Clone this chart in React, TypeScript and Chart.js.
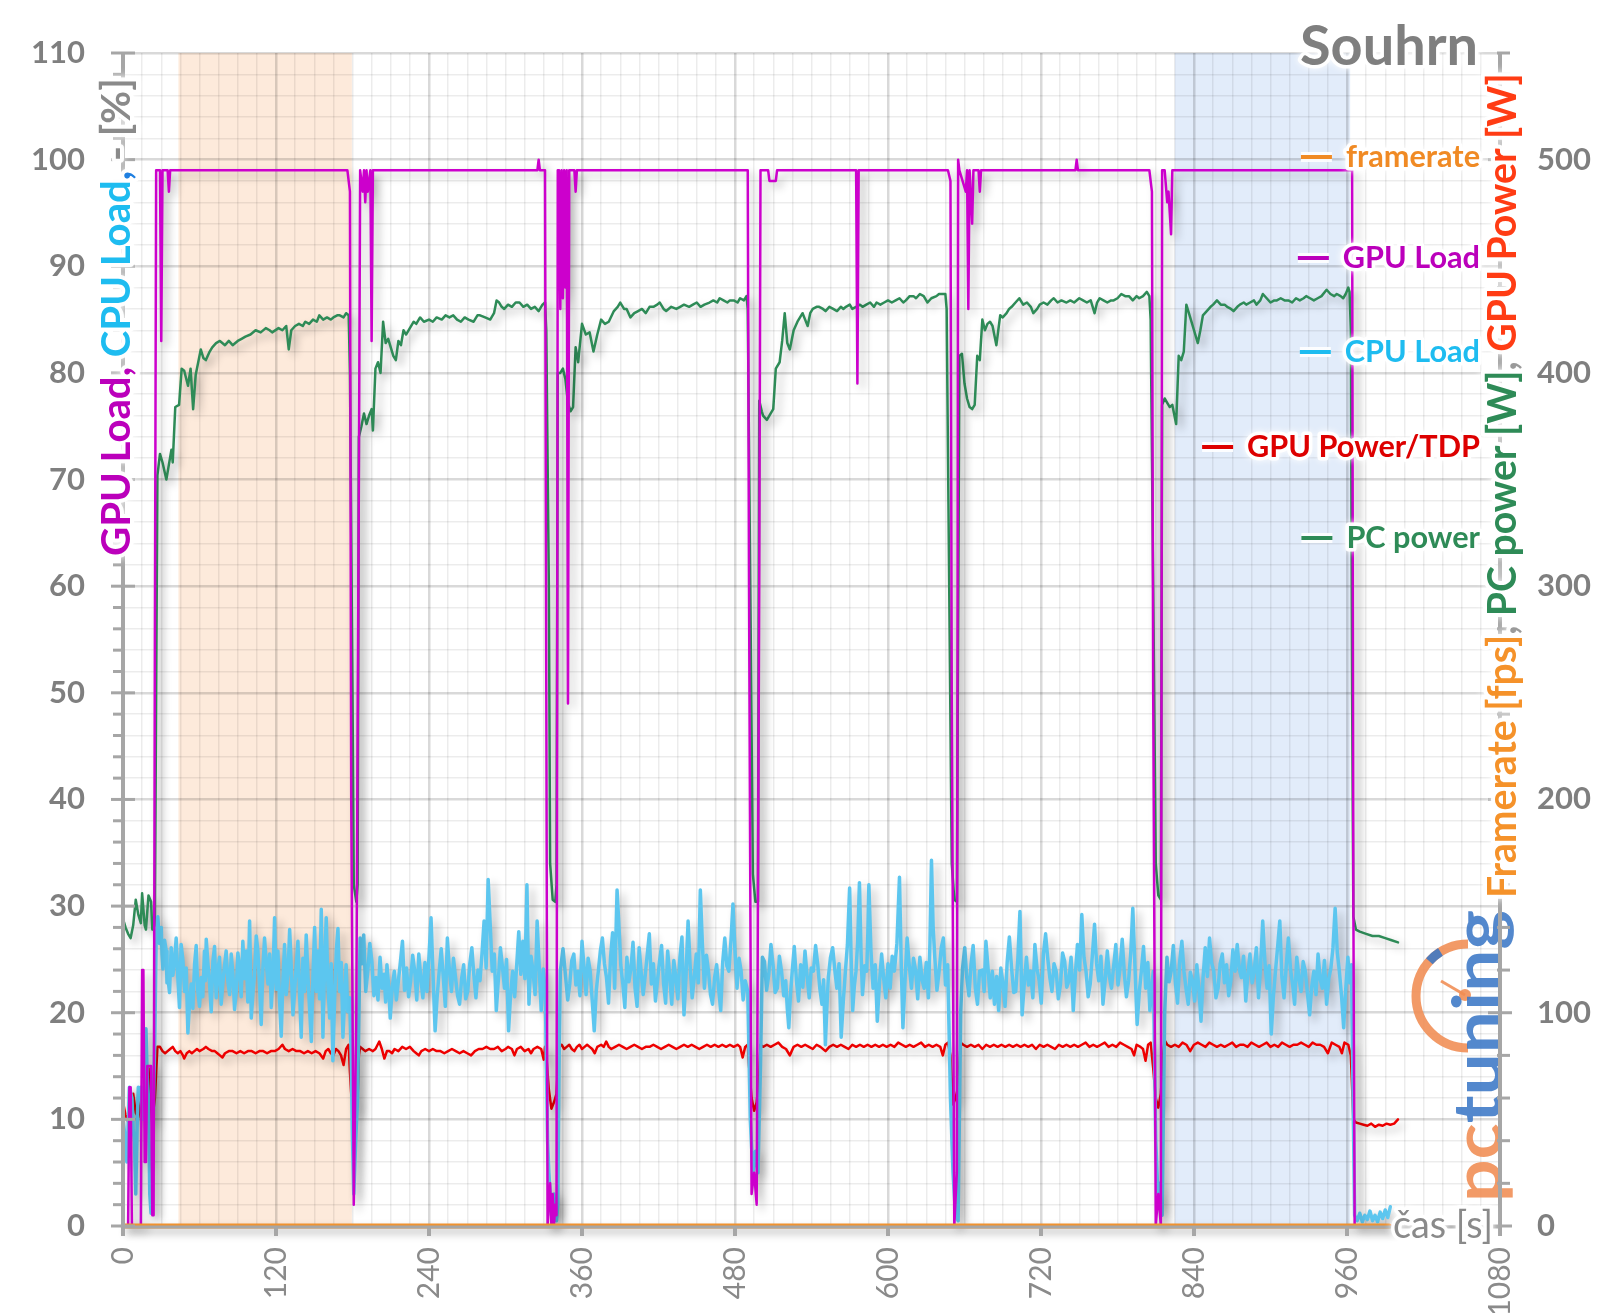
import React, { useEffect, useRef } from 'react';
import { Chart, registerables } from 'chart.js';

Chart.register(...registerables);

// ---------- data (time [s], value) ----------
const framerate: [number, number][] = [[0, 0], [993, 0]];

const gpuLoad: [number, number][] = [
  [0,0],[4,0],[5,13],[6,13],[7,0],[14,0],[15,24],[16,24],[17,6],[18,6],[19,15],[22,15],[23,1],[24,1],[25,55],[26,99],[29,99],[30,83],[31,99],[35,99],[36,97],[37,99],
  [176,99],[178,97],[179,40],[181,2],[183,20],[185,70],[186,99],[188,97],[189,99],[190,96],[191,99],[192,97],[194,99],[195,83],[196,99],
  [325,99],[326,100],[327,99],[331,99],[332,50],[333,0],[335,4],[336,0],[337,3],[338,0],[339,2],[340,1],[341,99],[342,99],[343,86],[344,99],[345,87],[346,99],[347,88],[348,99],[349,49],[350,99],[354,99],[355,97],[356,99],
  [490,99],[491,60],[493,3],[495,5],[497,2],[499,60],[500,99],[506,99],[507,98],[512,98],[513,99],[575,99],[576,79],[577,99],
  [647,99],[649,98],[650,50],[652,0],[654,5],[655,100],[656,99],[661,97],[662,99],[663,86],[664,99],[666,94],[667,99],[671,99],[672,97],[673,99],
  [747,99],[748,100],[749,99],[805,99],[807,97],[808,50],[810,0],[812,3],[814,0],[815,99],[817,99],[819,96],[820,97],[822,93],[823,99],
  [963,99],[964,99],[965,30],[966,0],[1000,0]
];

const cpuLoad: [number, number][] = [
  [0,10],[1,9],[2,8],[3,6],[4,9],[5,13],[6,12.5],[7,12],[8,9],[9,8],[10,3],[11,9],[12,13],[13,12],[14,13],[15,11],[16,10],[17,14],[18,18.5],[19,14],[20,12],[21,3],[22,1.2],[23,6],[24,12],[25,18],[26,27],
  [27.3,29],[28.6,26.5],[30,28],[30.6,25.5],[31.3,24.1],[32.6,26.8],[33.9,25.8],[34.5,22.8],[35.2,23.3],[36.5,21.9],[37.8,26.1],[39.1,23.5],[40.4,24.8],[41.7,27],[43,23.3],[44.3,20.5],[45.6,26.4],[47,24.9],[48.3,22],[49.6,24.2],[50.9,18.1],[52.2,21],[53.5,22.7],[54.8,20.4],[56.1,24.5],[57.4,26.3],[58.7,22],[60,20.6],[61.3,23.3],[62.6,21.5],[63.9,25.8],[64.6,23],[65.3,26.9],[66.6,24.6],[67.9,22.7],[69.2,20.1],[70.5,24.8],[71.8,26.2],[73.1,21.4],[74.4,23.9],[75.7,25.2],[77,20.8],[78.3,22.7],[79.6,24.4],[80.9,25.8],[82.2,23],[83.6,21.7],[84.9,25.5],[86.2,23.6],[87.5,20.3],[88.8,22],[90.1,25.6],[91.4,24.2],[92.7,21.5],[94,26.7],[95.3,23.2],[96.6,25.8],[97.9,21],[99.3,28.6],[100,24],[100.6,19.5],[101.9,21.8],[103.2,23.6],[104.5,27.2],[105.8,25.8],[107.1,22.5],[108.4,18.9],[109.7,24.1],[111,27],[112.3,24.8],[113.7,22.7],[115,25.5],[116.3,20.5],[117.6,23.4],[118.9,28.9],[120.2,22.2],[121.5,25.8],[122.8,21.1],[124.1,17.8],[125.4,22.9],[126.7,26.4],[128,21.7],[129.4,23.6],[130.7,27.8],[132,24.2],[133.3,19.8],[134.6,22],[135.9,24.5],[137.2,26.7],[138.5,21.8],[139.8,17.7],[141.1,25.1],[142.4,22],[143.7,27.3],[145.1,23.3],[146.4,20.2],[147.7,17.3],[149,23.5],[150.3,28],[151.6,22],[152.9,25.8],[154.2,21.3],[155.5,29.7],[156.8,17.7],[158.1,24.3],[159.4,28.9],[160.7,22.6],[162.1,19.5],[163.3,24.6],[164.6,15.5],[166,21.4],[167.3,25.8],[168.6,27.9],[169.9,22],[171.2,24.7],[172.5,17.7],[173.8,21.3],[175,24.5],[176.3,20.1],[177.7,21.4],[179,16],[179.8,9.2],[181,3],[182.5,8],[184,12],[186,27],
  [187.4,24.6],[188.8,27.3],[190.4,22],[192,23.9],[193.6,26.5],[195.2,24.8],[196.8,21.6],[198.4,23.3],[200,21.2],[201.6,25.2],[203.2,22.3],[204.8,23.6],[206,21],[207,24.5],[208.3,22.6],[209.6,19.5],[211.2,22.4],[212.8,23.9],[214.4,21.2],[216,23],[217.6,24.8],[219.2,26.7],[220.8,22.1],[222.4,24.2],[224,21.5],[225.6,23],[227.2,25.4],[228.8,23.9],[230.4,21.2],[232,25.5],[233.6,23.2],[235.2,21.4],[236.8,24.7],[238.4,22],[240,25.3],[241.6,28.9],[243.2,23.4],[244.8,18.3],[246.4,21.5],[248,23.9],[249.6,26],[251.2,23.3],[252.8,20.6],[254.4,27],[256,24],[257.6,22],[259.2,25.1],[260.8,23.3],[262.4,21.6],[264,20.8],[265.6,23.2],[267.2,24.5],[268.8,21.3],[270.4,22],[272,24.6],[273.6,26.1],[275.2,23.5],[276.8,21.4],[278.4,24],[280,23],[281.6,25.6],[283.2,28.6],[284.8,24.2],[286.4,32.5],[288,28.3],[289.6,23.9],[291.2,25.5],[292.8,20.2],[294.4,23.1],[296,26.1],[297.6,24.3],[299.2,22.3],[300.8,25],[302.4,18.3],[304,21.7],[305.6,23.9],[307.2,21.5],[308.8,24.5],[310.4,27.6],[312,23.6],[313.6,26.7],[315.2,23.2],[316.8,32],[318.4,20.8],[320,25.3],[321.6,23.9],[323.2,21.7],[324.8,28.6],[326.4,24.4],[328,20.2],[329.6,24.1],[331.2,22],[333,8],[334,5],[336,1],[338,3],[340,0.5],[341,2],[342,15],
  [343,23.9],[345.1,26],[347.2,23.3],[348.8,21.2],[350.4,22.7],[352,24.9],[353.6,25.5],[355.2,22.6],[356.8,23.9],[358.4,21.6],[360,26.7],[361.6,24.3],[363.2,21.7],[364.8,25.1],[366.4,23.9],[368,21.2],[369.6,18.3],[371.2,22.1],[372.8,23.9],[374.4,25.8],[376,27],[377.6,24.6],[379.2,23.3],[380.8,20.9],[382.4,25.2],[384,27.5],[385.6,22.3],[387.5,31.5],[388.8,28.6],[390.4,24.5],[392,22.7],[393.6,20.5],[395.2,25.2],[396.8,22.9],[398.4,24.2],[400,26.6],[401.6,22.3],[403.2,20.6],[404.8,26.1],[406.4,23.8],[408,21.7],[409.6,23.5],[411.2,25.5],[412.8,27.4],[414.4,22.7],[416,24.6],[417.6,21.1],[419.2,23],[420.8,24.8],[422.4,26.3],[424,22.7],[425.6,20.9],[427.2,25.8],[428.8,23.4],[430.4,20.8],[432,24.9],[433.6,23.3],[435.2,21.3],[436.8,25.2],[438.4,27.1],[440,19.8],[441.6,23.5],[443.2,28.6],[444.8,24.4],[446.4,21.4],[448,23.2],[449.6,25.5],[451.2,22.8],[452.8,31.5],[454.4,26.5],[456,22.3],[457.6,25.4],[459.2,23.9],[460.8,21.7],[462.4,20.8],[464,23.3],[465.6,24.5],[467.2,22.2],[468.8,20.2],[470.4,24.8],[472,27],[473.6,24.4],[475.2,23.9],[476.8,26.7],[478.4,30.2],[480,25.7],[481.6,22.3],[483.2,25.1],[484.8,23.9],[486.4,21.2],[488,23],[490,22],[492,10],[494,5],[496,7],[498,5],[500,15],
  [501.5,25.2],[503.1,24.8],[504.8,22.1],[506.5,23.6],[508.2,26.4],[509.8,24.5],[511.5,21.9],[513.2,22.3],[514.8,25.3],[516.5,23.9],[518.2,21.6],[519.8,23],[521,20.4],[522.2,18.6],[523.5,21.7],[524.9,23.9],[526.5,26.2],[528.2,23],[529.8,21.1],[531.5,24.5],[533.2,22.4],[534.9,25.8],[536.5,23.5],[538.2,21.4],[539.8,24.2],[541.5,23.9],[543.2,26.3],[544.9,24.5],[546.5,22.3],[548.2,20.8],[549.5,23.1],[550.9,17],[552,20.4],[553.2,23.3],[554.9,25.2],[556.6,26.1],[558.2,24.1],[559.9,22.3],[561.6,24.6],[563.3,17.7],[565,21.2],[566.6,23.9],[568.2,26.4],[569.9,31.7],[571.1,25.1],[572.3,20.2],[573.6,22.5],[574.9,23.9],[576.2,26.6],[577.6,32.2],[578.8,25.8],[580,21.7],[581.7,24.4],[583.3,23.9],[584.2,27.5],[585,32],[586.6,25.9],[588.3,22.3],[590,24.5],[591.6,19.2],[593.3,22.8],[595,25.5],[596.6,23.2],[598.3,21.4],[600,24.6],[601.7,22.3],[603.3,25.3],[605,23.9],[607,26.5],[609,32.7],[610.4,24.5],[611.7,18.6],[613.3,22.9],[615,27],[616.7,24.4],[618.4,22.3],[620,25.1],[621.7,23.9],[623.3,21.3],[625,25.2],[626.7,23.1],[628.4,22.3],[630,24.7],[631.7,21.4],[632.9,26.5],[634.1,34.3],[635.4,28],[636.7,25.2],[638.4,22.1],[640.1,23.9],[641.8,26.1],[643.4,27],[645.1,22.6],[646.8,24.5],[649,12],[651,5],[653,1],[655,0.5],[657,20],
  [658.5,24.2],[660.2,26.1],[661.8,23.3],[663.5,21.6],[665.1,24.5],[666.8,26.3],[668.5,22.3],[670.2,20.8],[671.8,23.9],[674,24],[675.4,22],[676.8,26.7],[678.5,24.1],[680.2,21.4],[681.8,23.9],[683.5,20.8],[685.2,23.4],[686.8,20.2],[688.5,24.2],[690.2,22.7],[691.8,20.6],[693.5,24.8],[695.2,27.1],[696.9,24.2],[698.6,21.9],[700.2,22],[701.9,25.2],[703.5,29.5],[705.2,19.8],[706.9,22.8],[708.6,25.2],[710.2,22.6],[711.9,23.9],[713.6,21.4],[715.2,26.4],[716.9,24.1],[718.6,23],[720.2,20.9],[721.9,25.5],[723.6,27.4],[725.2,25.2],[726.9,23.3],[728.6,22],[730.2,24.6],[731.9,23.9],[733.6,21.3],[735.3,22.7],[736.9,25.6],[738.6,24.8],[740.2,22.4],[741.9,23],[743.6,25.2],[745.3,20.2],[747,23.7],[748.6,26.4],[750.3,24],[752,29.2],[753.7,25.2],[755.3,23.9],[757,21.5],[758.6,22.7],[760.3,25.4],[762,28.3],[763.6,24.6],[765.3,23],[767,25.3],[768.6,20.8],[770.3,23],[772,25.8],[773.6,23.4],[775.3,22.3],[777,24.4],[778.7,26.4],[780.4,22.6],[782,24.2],[783.7,26.9],[785.4,23.6],[787,21.5],[788.7,23],[790.4,25.6],[792,29.8],[793.7,24.3],[795.4,18.9],[797,21.8],[798.7,23.9],[800.4,26.2],[802.1,22.3],[803.8,24.7],[805.4,20.2],[806.8,22.4],[808.1,23.9],[810,8],[812,2],[813,4],[815,1],[817,20],
  [818.8,25.2],[820.5,22.9],[822.1,23.9],[823.8,26.3],[825.5,22.7],[827.1,20.9],[828.8,24.8],[830.5,26.7],[832.1,23.9],[833.8,22.2],[835.5,20.8],[837.1,23.8],[838.8,23],[840.5,21.1],[842.2,24.5],[843.8,22.3],[845.5,19.2],[847.1,23.3],[848.8,26.1],[850.5,23.4],[852.2,27],[853.8,24.7],[855.5,23.9],[857.2,21.4],[858.9,22.3],[860.5,24.6],[862.2,25.5],[863.9,22.8],[865.5,24.5],[867.2,21.6],[868.9,23],[870.5,25.9],[872.2,23.9],[873.9,26.4],[875.5,24.1],[877.2,23.3],[878.9,25.3],[880.6,21.1],[882.2,23.5],[883.9,25.5],[885.6,22.8],[887.2,23.9],[888.9,26.1],[890.6,21.4],[892.2,24.3],[893.9,28.6],[895.6,24.8],[897.3,22.3],[898.9,24.4],[900.6,18],[902.3,21.6],[903.9,23.9],[905.6,26.2],[907.3,28.6],[908.9,23.4],[910.6,21.4],[912.3,24.3],[914,27],[915.6,24.2],[917.3,22.7],[918.9,20.8],[920.6,25.2],[922.3,23.2],[924,22],[925.6,24.8],[927.3,23.9],[929,21.8],[930.7,19.8],[932.3,22.4],[934,23.9],[935.7,21.7],[937.3,25.5],[939,23.1],[940.7,22.3],[942.3,24.9],[944,20.8],[945.7,23.2],[947.4,24.2],[949,26.1],[950.7,29.8],[952.4,25.6],[954,23.9],[955.7,21.6],[957.4,18.6],[959,22.2],[960.7,25.2],[962.1,22.8],[963.5,24.5],[965,10],[966,1],[968,0.5],[970,1.2],[972,0.4],[974,1],[976,0.6],[978,1.4],[980,0.5],[982,1],[984,0.4],[986,1.3],[988,0.7],[990,1.5],[992,0.8],[994,1.8]
];

const gpuPower: [number, number][] = [
  [0,58],[2,52],[4,49],[6,55],[8,62],[10,53],[12,51],[14,58],[16,64],[18,70],[19,66],[20,74],[21,62],[22,56],[23,48],[24,55],[25,60],[26,72],[27,84],[29,84],[31,82],[33,81],[35,82],[37,83],[39,84],[41,82],[43,81],[45,82],[47,80],[48,78.5],[50,81],[52,82],[54,81],[56,82],[58,83],[60,82],[63,83],[65,84],[67,83],[70,82],[72,82],[74,81],[76,80],[78,79],[80,81],[83,82],[86,82],[89,81],[92,82],[95,81],[98,82],[101,82],[104,81],[107,82],[110,82],[113,81],[116,82],[119,82],[122,83],[125,85],[127,83],[130,82],[133,83],[136,82],[139,82],[142,81],[145,82],[148,81],[151,82],[154,81],[157,78.5],[159,82],[161,83],[163,81],[165,80],[167,83],[169,82],[171,80],[173,75.5],[175,83],[177,85],[178,72],[179,62],[181,58],[183,53],[184,60],[185,80],
  [186,84],[188,83],[190,82],[193,83],[196,82],[198,83],[201,86.5],[203,83],[205,78.5],[207,82],[209,82],[211,81],[213,83],[216,82],[219,84],[222,83],[225,84],[228,82],[230,81],[232,80],[234,82],[237,83],[240,82],[243,83],[246,82],[249,82],[252,81],[255,82],[258,83],[261,82],[264,81],[267,82],[270,81],[273,80],[276,82],[279,83],[282,83],[285,84],[288,83],[291,83],[294,84],[297,82],[300,83],[302,84],[305,83],[307,80],[309,83],[312,84],[315,82],[318,83],[320,81],[322,83],[325,84],[328,83],[330,78],[331,84],[332,80],[334,64],[336,55],[338,58],[340,62],
  [342,84],[344,85],[346,83],[348,84],[350,85],[352,83],[354,82],[356,84],[358,85],[360,83],[362,84],[364,85],[366,84],[368,83],[370,81],[372,84],[375,85],[377,84],[379,86.5],[381,84],[383,83],[386,84],[389,85],[392,84],[395,83],[398,84],[401,85],[404,84],[407,83],[410,84],[413,84],[416,85],[419,84],[422,83],[425,84],[428,85],[431,84],[434,83],[437,84],[440,85],[443,84],[446,85],[449,84],[452,83],[455,84],[458,85],[461,84],[464,85],[467,84],[470,85],[473,84],[476,85],[479,84],[482,85],[484,84],[486,79],[488,84],[490,85],[491,75],[493,60],[495,54],[497,58],[499,70],
  [500,85],[502,84],[505,85],[508,84],[511,85],[514,86],[517,84],[520,83],[523,80],[526,84],[529,85],[532,84],[535,85],[538,84],[541,83],[544,85],[547,84],[551,82],[554,84],[557,85],[560,84],[563,85],[566,84],[569,83],[572,85],[575,84],[578,85],[581,84],[584,85],[587,84],[590,85],[593,84],[596,85],[599,84],[602,85],[605,84],[608,86],[611,85],[614,84],[617,85],[620,84],[623,85],[626,86],[629,84],[632,85],[635,84],[638,85],[641,84],[643,80],[645,85],[647,86],[649,80],[651,57],[653,60],[655,65],
  [657,86],[659,85],[662,84],[665,85],[668,84],[671,85],[674,83],[677,85],[680,84],[683,85],[686,84],[689,85],[692,84],[695,85],[698,84],[701,85],[704,84],[707,85],[710,84],[713,85],[716,83],[719,85],[722,84],[725,85],[728,84],[731,83],[734,85],[737,84],[740,85],[743,84],[746,85],[749,84],[752,85],[755,86],[758,84],[761,85],[764,84],[767,85],[770,86],[773,84],[776,85],[779,84],[782,86],[785,85],[788,84],[791,83],[793,80],[795,85],[798,84],[800,83],[802,77.5],[804,85],[806,86],[808,74],[810,60],[812,55.5],[814,62],
  [816,82],[817,87],[819,85],[822,84],[825,85],[828,84],[831,86],[834,85],[837,82],[840,85],[843,86],[846,85],[849,84],[852,86],[855,85],[858,84],[861,85],[864,84],[867,85],[870,86],[873,84],[876,85],[879,85],[882,84],[885,86],[888,85],[891,84],[894,85],[897,86],[900,84],[903,85],[906,84],[909,86],[912,85],[915,84],[918,85],[921,85],[924,86],[927,85],[930,84],[933,86],[936,85],[939,85],[942,84],[945,81],[948,86],[951,85],[954,84],[956,81],[958,86],[961,85],[963,80],[965,50],[967,48.5],[970,48],[973,47.5],[976,47],[979,48],[982,46.5],[985,47.5],[988,47],[991,48],[994,47.5],[997,48],[1000,50]
];

const pcPower: [number, number][] = [
  [0,144],[2,140],[4,137],[6,135],[8,141],[10,153],[12,146],[14,142],[15,156],[17,141],[18,139],[20,155],[22,152],[23,139],[25,141],[26,250],[27,352],[29,362],[31,358],[34,350],[36,357],[38,364],[39,358],[41,384],[44,385],[46,402],[48,401],[51,394],[53,402],[55,383],[57,399],[59,405],[61,411],[63,407],[65,406],[68,410],[70,412],[73,414],[76,415],[80,413],[83,415],[86,413],[90,415],[93,416],[96,417],[100,418],[104,420],[108,419],[112,421],[115,420],[117,419],[122,421],[125,420],[128,422],[130,411],[132,420],[135,422],[138,423],[141,422],[143,424],[146,423],[149,425],[152,424],[154,427],[157,425],[160,426],[163,425],[165,426],[168,427],[170,427],[173,426],[175,428],[177,427],[178,400],[180,250],[181,160],[183,152],[184,160],
  [185,370],[187,375],[189,381],[191,376],[193,380],[195,383],[196,373],[198,402],[200,405],[202,400],[204,424],[206,414],[208,416],[210,412],[212,408],[214,406],[216,415],[218,413],[220,420],[222,418],[225,421],[228,424],[230,423],[233,426],[236,424],[240,425],[243,424],[246,426],[250,425],[253,427],[256,426],[259,427],[262,425],[265,424],[268,426],[271,425],[275,424],[278,427],[280,427],[284,426],[288,425],[291,428],[293,434],[295,433],[297,431],[299,430],[302,432],[305,431],[308,433],[311,433],[314,431],[317,432],[320,430],[323,431],[326,429],[329,432],[331,433],[332,420],[334,300],[335,170],[337,153],[339,152],[340,160],
  [341,400],[343,400],[345,402],[347,397],[349,386],[351,382],[353,384],[355,412],[357,405],[360,423],[363,418],[366,419],[369,410],[372,418],[375,425],[378,423],[381,424],[385,429],[388,431],[390,433],[393,430],[395,430],[398,426],[401,428],[404,429],[407,430],[410,428],[413,431],[416,431],[419,432],[421,433],[424,430],[426,429],[430,431],[434,430],[437,431],[440,432],[444,431],[447,432],[450,433],[453,431],[456,432],[460,433],[463,434],[466,433],[468,435],[471,434],[474,433],[476,434],[479,434],[482,433],[484,435],[487,434],[489,436],[490,430],[492,300],[494,165],[496,152],[498,152],
  [499,387],[501,382],[502,380],[505,378],[508,381],[510,383],[512,402],[515,405],[517,415],[519,428],[521,414],[523,411],[526,420],[529,424],[531,426],[533,428],[535,425],[537,422],[539,428],[541,430],[544,431],[546,431],[549,430],[551,429],[554,431],[557,430],[560,429],[563,431],[565,430],[567,431],[570,432],[572,430],[575,431],[578,432],[580,431],[583,432],[586,433],[589,431],[591,433],[594,432],[597,433],[600,434],[603,433],[606,434],[609,435],[612,433],[614,434],[617,436],[620,436],[622,435],[625,437],[628,436],[631,433],[634,435],[638,436],[640,437],[643,437],[645,437],[646,430],[648,300],[650,170],[652,153],[654,152],
  [656,408],[658,409],[660,395],[662,388],[664,384],[666,383],[668,385],[670,408],[672,406],[674,425],[676,420],[678,423],[680,424],[682,422],[685,413],[688,427],[690,426],[693,428],[695,430],[697,431],[700,433],[703,435],[706,432],[709,433],[712,431],[714,428],[717,430],[719,432],[722,433],[725,432],[728,434],[730,435],[733,433],[736,434],[740,433],[743,434],[746,433],[750,435],[753,434],[756,433],[759,434],[762,428],[764,433],[766,435],[769,434],[772,433],[775,434],[777,434],[780,435],[783,437],[786,436],[789,436],[792,434],[795,436],[797,435],[800,436],[803,438],[805,436],[806,425],[808,300],[810,170],[812,155],[814,153],
  [815,385],[817,388],[819,386],[821,384],[823,385],[826,376],[828,408],[830,406],[832,410],[834,432],[836,428],[838,424],[840,420],[843,414],[845,420],[847,427],[850,429],[853,431],[855,432],[858,434],[861,432],[864,432],[866,431],[869,430],[871,429],[874,431],[876,432],[879,433],[881,432],[884,433],[887,434],[889,432],[892,434],[894,437],[897,435],[900,433],[903,434],[905,434],[908,435],[911,434],[914,434],[917,433],[920,435],[923,434],[926,435],[928,436],[931,435],[934,434],[937,435],[940,436],[944,439],[947,437],[950,436],[952,437],[955,436],[957,435],[959,437],[961,440],[962,438],[963,420],[964,250],[965,145],[967,139],[970,138],[975,137],[980,136],[985,136],[990,135],[995,134],[1000,133]
];

// ---------- axes / annotations ----------
const xTickLabels = [0, 120, 240, 360, 480, 600, 720, 840, 960, 1080];
const leftTickLabels = [0, 10, 20, 30, 40, 50, 60, 70, 80, 90, 100, 110];
const rightTickLabels = [0, 100, 200, 300, 400, 500];
const highlightStart = [43.5, 825];
const highlightEnd = [179.5, 962.5];
const legendLabels = ['framerate', 'GPU Load', 'CPU Load', 'GPU Power/TDP', 'PC power'];
const chartTitle = 'Souhrn';
const xAxisTitle = 'čas [s]';

const FONT = 'Lato, "Open Sans", "DejaVu Sans", sans-serif';

function fitSize(ctx: CanvasRenderingContext2D, text: string, weight: string, target: number) {
  ctx.font = `${weight} 40px ${FONT}`;
  const w = ctx.measureText(text).width;
  return (40 * target) / w;
}

function glowText(ctx: CanvasRenderingContext2D, text: string, x: number, y: number, color: string, font: string, align: CanvasTextAlign, baseline: CanvasTextBaseline) {
  ctx.save();
  ctx.font = font;
  ctx.textAlign = align;
  ctx.textBaseline = baseline;
  ctx.lineJoin = 'round';
  ctx.strokeStyle = 'rgba(255,255,255,0.95)';
  ctx.lineWidth = 7;
  ctx.shadowColor = '#ffffff';
  ctx.shadowBlur = 7;
  ctx.strokeText(text, x, y);
  ctx.shadowBlur = 0;
  ctx.fillStyle = color;
  ctx.fillText(text, x, y);
  ctx.restore();
}

function rotatedSegments(ctx: CanvasRenderingContext2D, segs: [string, string][], cx: number, startY: number, target: number) {
  const full = segs.map((s) => s[0]).join('');
  const size = fitSize(ctx, full, 'bold', target);
  ctx.save();
  ctx.translate(cx, startY);
  ctx.rotate(-Math.PI / 2);
  ctx.font = `bold ${size}px ${FONT}`;
  ctx.textAlign = 'left';
  ctx.textBaseline = 'middle';
  ctx.lineJoin = 'round';
  ctx.strokeStyle = 'rgba(255,255,255,0.95)';
  ctx.lineWidth = 8;
  ctx.shadowColor = '#ffffff';
  ctx.shadowBlur = 8;
  let pos = 0;
  for (const [t] of segs) {
    ctx.strokeText(t, pos, 0);
    pos += ctx.measureText(t).width;
  }
  ctx.shadowBlur = 0;
  pos = 0;
  for (const [t, c] of segs) {
    ctx.fillStyle = c;
    ctx.fillText(t, pos, 0);
    pos += ctx.measureText(t).width;
  }
  ctx.restore();
}

const shadowPlugin = {
  id: 'lineShadow',
  beforeDatasetDraw(chart: any) {
    const ctx = chart.ctx;
    ctx.save();
    ctx.shadowColor = 'rgba(0,0,0,0.28)';
    ctx.shadowBlur = 8;
    ctx.shadowOffsetX = 5;
    ctx.shadowOffsetY = 5;
  },
  afterDatasetDraw(chart: any) {
    chart.ctx.restore();
  },
};

const decorPlugin = {
  id: 'decor',
  beforeDraw(chart: any) {
    const { ctx, chartArea: a, scales } = chart;
    ctx.save();
    ctx.fillStyle = '#ffffff';
    ctx.fillRect(0, 0, chart.width, chart.height);
    const fills = ['#fdeadb', '#e2ecfa'];
    highlightStart.forEach((s, i) => {
      const x0 = scales.x.getPixelForValue(s);
      const x1 = scales.x.getPixelForValue(highlightEnd[i]);
      ctx.fillStyle = fills[i];
      ctx.fillRect(x0, a.top, x1 - x0, a.bottom - a.top);
    });
    ctx.restore();
  },
  afterDraw(chart: any) {
    const { ctx, chartArea: a, scales } = chart;
    const xs = scales.x, yl = scales.y, yr = scales.y1;

    // watermark logo
    ctx.save();
    ctx.globalAlpha = 0.88;
    ctx.strokeStyle = '#f08c52';
    ctx.lineWidth = 9;
    ctx.beginPath();
    ctx.arc(1468, 996, 52, -Math.PI / 2, Math.PI / 2, true);
    ctx.stroke();
    ctx.strokeStyle = '#3b78c6';
    ctx.beginPath();
    ctx.arc(1468, 996, 52, (222 * Math.PI) / 180, (238 * Math.PI) / 180);
    ctx.stroke();
    ctx.strokeStyle = '#f08c52';
    ctx.lineWidth = 3;
    ctx.beginPath();
    ctx.moveTo(1465, 995);
    ctx.lineTo(1441, 981);
    ctx.stroke();
    ctx.fillStyle = '#f08c52';
    ctx.beginPath();
    ctx.arc(1465, 995, 6, 0, Math.PI * 2);
    ctx.fill();
    ctx.translate(1501, 1202);
    ctx.rotate(-Math.PI / 2);
    ctx.font = `bold 66px ${FONT}`;
    ctx.textBaseline = 'alphabetic';
    ctx.textAlign = 'left';
    const wPc = ctx.measureText('pc').width;
    const wAll = ctx.measureText('pctuning').width;
    ctx.scale(292 / wAll, 1);
    ctx.fillStyle = '#f08c52';
    ctx.fillText('pc', 0, 0);
    ctx.fillStyle = '#3b78c6';
    ctx.fillText('tuning', wPc, 0);
    ctx.restore();

    // axis lines and tick marks
    ctx.save();
    ctx.strokeStyle = '#a6a6a6';
    ctx.lineCap = 'butt';
    ctx.lineWidth = 4;
    ctx.beginPath();
    ctx.moveTo(a.left, a.top);
    ctx.lineTo(a.left, a.bottom + 2);
    ctx.moveTo(a.right, a.top);
    ctx.lineTo(a.right, a.bottom + 2);
    ctx.stroke();
    ctx.lineWidth = 3;
    ctx.beginPath();
    ctx.moveTo(a.left, a.bottom + 1);
    ctx.lineTo(a.right, a.bottom + 1);
    ctx.stroke();
    ctx.lineWidth = 3;
    for (let v = 0; v <= 110; v += 2) {
      const y = yl.getPixelForValue(v);
      ctx.beginPath();
      if (v % 10 === 0) { ctx.moveTo(a.left - 12, y); ctx.lineTo(a.left + 12, y); }
      else { ctx.moveTo(a.left - 10, y); ctx.lineTo(a.left, y); }
      ctx.stroke();
    }
    for (let w = 0; w <= 550; w += 10) {
      if (w % 20 !== 0 && w !== 550) continue;
      const y = yr.getPixelForValue(w);
      ctx.beginPath();
      if (w % 100 === 0) { ctx.moveTo(a.right - 12, y); ctx.lineTo(a.right + 12, y); }
      else { ctx.moveTo(a.right - 3, y); ctx.lineTo(a.right + 10, y); }
      ctx.stroke();
    }
    ctx.lineWidth = 4;
    xTickLabels.forEach((t) => {
      const x = xs.getPixelForValue(t);
      ctx.beginPath();
      ctx.moveTo(x, a.bottom);
      ctx.lineTo(x, a.bottom + 10);
      ctx.stroke();
    });
    ctx.restore();

    // tick labels
    const tickFont = `bold 31px ${FONT}`;
    leftTickLabels.forEach((v) => {
      glowText(ctx, String(v), 85, yl.getPixelForValue(v), '#7f7f7f', tickFont, 'right', 'middle');
    });
    rightTickLabels.forEach((v) => {
      glowText(ctx, String(v), 1537, yr.getPixelForValue(v), '#7f7f7f', tickFont, 'left', 'middle');
    });
    xTickLabels.forEach((t) => {
      const x = xs.getPixelForValue(t);
      ctx.save();
      ctx.translate(x, a.bottom + 21);
      ctx.rotate(-Math.PI / 2);
      glowText(ctx, String(t), 0, 0, '#8a8a8a', `30px ${FONT}`, 'right', 'middle');
      ctx.restore();
    });

    // axis titles
    rotatedSegments(ctx, [
      ['GPU Load,', '#bb00bb'],
      [' CPU Load', '#1ebcf0'],
      [',', '#1f7fe0'],
      [' - [%]', '#8a8a8a'],
    ], 117, 556, 478);
    rotatedSegments(ctx, [
      ['Framerate [fps]', '#f5922a'],
      [', ', '#9a9a9a'],
      ['PC power [W]', '#2e8b57'],
      [', ', '#9a9a9a'],
      ['GPU Power [W]', '#ff3c14'],
    ], 1503, 898, 825);

    // title and x axis title
    const titleSize = fitSize(ctx, chartTitle, 'bold', 178);
    glowText(ctx, chartTitle, 1478, 65, '#7f7f7f', `bold ${titleSize}px ${FONT}`, 'right', 'alphabetic');
    const xtSize = fitSize(ctx, xAxisTitle, 'normal', 100);
    glowText(ctx, xAxisTitle, 1393, 1226, '#8a8a8a', `${xtSize}px ${FONT}`, 'left', 'middle');

    // legend
    const legendColors = ['#f08a24', '#bb00bb', '#1ebcf0', '#dd0000', '#2e8b57'];
    const legendY = [157, 258, 352, 447, 538];
    const lSize = fitSize(ctx, 'GPU Power/TDP', 'bold', 233);
    const lFont = `bold ${lSize}px ${FONT}`;
    legendLabels.forEach((label, i) => {
      ctx.save();
      ctx.font = lFont;
      const w = ctx.measureText(label).width;
      const x1 = 1480 - w - 14;
      ctx.strokeStyle = 'rgba(255,255,255,0.9)';
      ctx.lineWidth = 10;
      ctx.beginPath();
      ctx.moveTo(x1 - 31, legendY[i]);
      ctx.lineTo(x1, legendY[i]);
      ctx.stroke();
      ctx.strokeStyle = legendColors[i];
      ctx.lineWidth = 4;
      ctx.beginPath();
      ctx.moveTo(x1 - 31, legendY[i]);
      ctx.lineTo(x1, legendY[i]);
      ctx.stroke();
      ctx.restore();
      glowText(ctx, label, 1480, legendY[i], legendColors[i], lFont, 'right', 'middle');
    });
  },
};

function toXY(pairs: [number, number][]) {
  return pairs.map(([x, y]) => ({ x, y }));
}

export default function App() {
  const canvasRef = useRef<HTMLCanvasElement | null>(null);

  useEffect(() => {
    const canvas = canvasRef.current;
    if (!canvas) return;
    const minorX = 'rgba(0,0,0,0.075)';
    const majorX = 'rgba(0,0,0,0.15)';
    const chart = new Chart(canvas, {
      type: 'line',
      data: {
        datasets: [
          { label: legendLabels[0], data: toXY(framerate), yAxisID: 'y1', borderColor: '#f0922f', borderWidth: 5 },
          { label: legendLabels[1], data: toXY(gpuLoad), yAxisID: 'y', borderColor: '#cc00cc', borderWidth: 2.5 },
          { label: legendLabels[2], data: toXY(cpuLoad), yAxisID: 'y', borderColor: '#5cc6ef', borderWidth: 3.5 },
          { label: legendLabels[3], data: toXY(gpuPower), yAxisID: 'y1', borderColor: '#ee0000', borderWidth: 2.5 },
          { label: legendLabels[4], data: toXY(pcPower), yAxisID: 'y1', borderColor: '#2e8b57', borderWidth: 2.5 },
        ] as any,
      },
      options: {
        responsive: false,
        animation: false,
        devicePixelRatio: 1,
        layout: { padding: { top: 53, left: 0, right: 0, bottom: 0 } },
        elements: {
          point: { radius: 0 },
          line: { tension: 0, borderJoinStyle: 'round', borderCapStyle: 'round' },
        },
        datasets: { line: { clip: false } } as any,
        plugins: { legend: { display: false }, tooltip: { enabled: false }, title: { display: false } },
        scales: {
          x: {
            type: 'linear', min: 0, max: 1080, position: 'bottom',
            ticks: { display: false, stepSize: 15, maxTicksLimit: 1000 },
            grid: {
              drawTicks: false,
              color: (c: any) => (c.tick && c.tick.value % 120 === 0 ? majorX : minorX),
              lineWidth: (c: any) => (c.tick && c.tick.value % 120 === 0 ? 2.5 : 1.5),
            },
            border: { display: false },
            afterFit: (s: any) => { s.height = 87; },
          },
          y: {
            type: 'linear', min: 0, max: 110, position: 'left',
            ticks: { display: false, stepSize: 2, maxTicksLimit: 1000 },
            grid: {
              drawTicks: false,
              color: (c: any) => (c.tick && c.tick.value % 10 === 0 ? majorX : minorX),
              lineWidth: (c: any) => (c.tick && c.tick.value % 10 === 0 ? 2.5 : 1.5),
            },
            border: { display: false },
            afterFit: (s: any) => { s.width = 123; },
          },
          y1: {
            type: 'linear', min: 0, max: 550, position: 'right',
            ticks: { display: false },
            grid: { display: false, drawTicks: false },
            border: { display: false },
            afterFit: (s: any) => { s.width = 100; },
          },
        },
      } as any,
      plugins: [decorPlugin, shadowPlugin],
    });
    return () => chart.destroy();
  }, []);

  return (
    <canvas
      ref={canvasRef}
      width={1600}
      height={1313}
      style={{ position: 'absolute', left: 0, top: 0, display: 'block', width: 1600, height: 1313 }}
    />
  );
}
